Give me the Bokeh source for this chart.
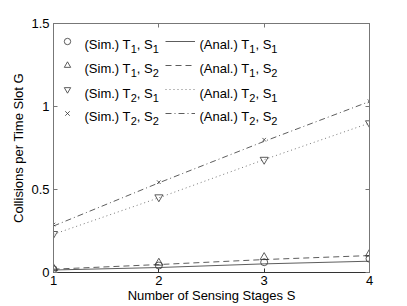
from bokeh.plotting import figure
from bokeh.models import Legend, LegendItem, LinearAxis, FixedTicker, Range1d, Label
from bokeh.embed import file_html
from bokeh.resources import INLINE

stages = [1, 2, 3, 4]
sim_t1_s1 = [0.02, 0.042, 0.062, 0.083]
sim_t1_s2 = [0.025, 0.058, 0.092, 0.113]
sim_t2_s1 = [0.233, 0.454, 0.68, 0.90]
sim_t2_s2 = [0.289, 0.544, 0.80, 1.032]
anal_t1_s1 = [0.015, 0.03, 0.052, 0.068]
anal_t1_s2 = [0.02, 0.048, 0.078, 0.102]
anal_t2_s1 = [0.23, 0.45, 0.68, 0.90]
anal_t2_s2 = [0.28, 0.54, 0.79, 1.03]
x_ticks = [1, 2, 3, 4]
y_ticks = [0, 0.5, 1, 1.5]
sim_prefix = "(Sim.) "
anal_prefix = "(Anal.) "
series_T = ["1", "1", "2", "2"]
series_S = ["1", "2", "1", "2"]

FONT = "Liberation Sans"
FS = 13
SUB_FS = 11
AX = "#777777"
W, H = 407, 306
FL, FR, FT, FB = 53, 369, 23, 272

p = figure(width=W, height=H, frame_width=FR - FL, frame_height=FB - FT,
           output_backend="svg", toolbar_location=None,
           x_range=Range1d(1, 4), y_range=Range1d(0, 1.5),
           min_border_left=FL, min_border_right=W - FR, min_border_top=FT, min_border_bottom=H - FB)
p.background_fill_color = "white"
p.border_fill_color = "white"
p.grid.visible = False
p.outline_line_color = AX

def style_axis(ax, labels=True):
    ax.axis_line_color = AX
    ax.major_tick_line_color = AX
    ax.minor_tick_line_color = None
    ax.major_tick_in = 4
    ax.major_tick_out = 0
    ax.major_label_text_font = FONT
    ax.major_label_text_font_size = f"{FS}px"
    ax.major_label_text_color = "black"
    ax.axis_label_text_font = FONT
    ax.axis_label_text_font_size = f"{FS}px"
    ax.axis_label_text_font_style = "normal"
    ax.axis_label_text_color = "black"

p.xaxis.ticker = FixedTicker(ticks=x_ticks)
p.yaxis.ticker = FixedTicker(ticks=y_ticks)
p.xaxis.axis_label = "Number of Sensing Stages S"
p.yaxis.axis_label = "Collisions per Time Slot G"
for ax in p.xaxis + p.yaxis:
    style_axis(ax)
p.xaxis.major_label_standoff = 3
p.xaxis.axis_label_standoff = 0
p.yaxis.major_label_standoff = 4
p.yaxis.axis_label_standoff = 2
p.xaxis.axis_line_color = "#333333"
p.xaxis.major_tick_line_color = "#333333"

top = LinearAxis(ticker=FixedTicker(ticks=x_ticks))
style_axis(top)
top.major_label_text_font_size = "0px"
top.major_label_text_color = None
right = LinearAxis(ticker=FixedTicker(ticks=y_ticks))
style_axis(right)
right.major_label_text_font_size = "0px"
right.major_label_text_color = None
p.add_layout(top, "above")
p.add_layout(right, "right")

lc = "#333333"
a1 = p.line(stages, anal_t1_s1, line_color=lc, line_width=0.8)
a2 = p.line(stages, anal_t1_s2, line_color=lc, line_width=0.8, line_dash="6 4")
a3 = p.line(stages, anal_t2_s1, line_color="#555555", line_width=0.8, line_dash="1 3")
a4 = p.line(stages, anal_t2_s2, line_color=lc, line_width=0.8, line_dash="6 3 1 3")

s1 = p.scatter(stages, sim_t1_s1, marker="circle", size=7, fill_alpha=0, line_color=lc, line_width=0.8)
s2 = p.scatter(stages, sim_t1_s2, marker="triangle", size=8, fill_alpha=0, line_color=lc, line_width=0.8)
s3 = p.scatter(stages, sim_t2_s1, marker="inverted_triangle", size=8, fill_alpha=0, line_color=lc, line_width=0.8)
s4 = p.scatter(stages, sim_t2_s2, marker="x", size=5, line_color=lc, line_width=0.8)

# legend glyphs (labels drawn separately to get real subscripts)
def make_legend(items, x, gw):
    lg = Legend(items=items, location=(x, 149), orientation="vertical")
    lg.border_line_color = None
    lg.background_fill_alpha = 0
    lg.padding = 0
    lg.margin = 0
    lg.spacing = 4
    lg.glyph_width = gw
    lg.glyph_height = 20
    lg.label_height = 20
    lg.label_width = 1
    lg.label_standoff = 0
    lg.label_text_font_size = "1px"
    return lg

p.add_layout(make_legend([LegendItem(label=" ", renderers=[r]) for r in [s1, s2, s3, s4]], 6, 16))
p.add_layout(make_legend([LegendItem(label=" ", renderers=[r]) for r in [a1, a2, a3, a4]], 112, 30))

# Arial / Liberation Sans advance widths (per 1000 em)
ADV = {"(": 333, ")": 333, ".": 278, ",": 278, " ": 278, "S": 667, "i": 222, "m": 833,
       "T": 611, "A": 667, "n": 556, "a": 556, "l": 222, "1": 556, "2": 556}

def tw(s, fs):
    return sum(ADV[c] for c in s) * fs / 1000.0

def px_to_x(px):
    return 1 + (px - FL) / (FR - FL) * 3

def py_to_y(py):
    return (FB - py) / (FB - FT) * 1.5

def add_text(txt, px, py, fs):
    p.add_layout(Label(x=px_to_x(px), y=py_to_y(py), text=txt, text_font=FONT,
                       text_font_size=f"{fs}px", text_baseline="alphabetic",
                       text_align="left", text_color="black"))

def legend_label(prefix, t, s, px, base):
    x = px
    part = prefix + "T"
    add_text(part, x, base, FS); x += tw(part, FS)
    add_text(t, x, base + 4.5, SUB_FS); x += tw(t, SUB_FS)
    part = ", S"
    add_text(part, x, base, FS); x += tw(part, FS)
    add_text(s, x, base + 4.5, SUB_FS)

baselines = [44, 68, 92.5, 116]
for t, s, b in zip(series_T, series_S, baselines):
    legend_label(sim_prefix, t, s, 84, b)
    legend_label(anal_prefix, t, s, 199, b)

open("out.html", "w").write(file_html(p, INLINE))
